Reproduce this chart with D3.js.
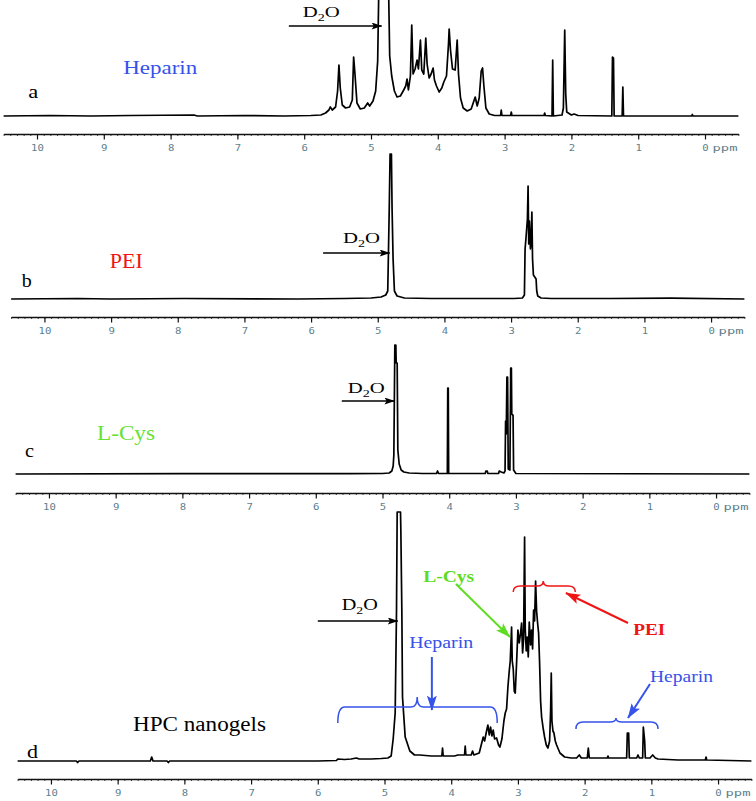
<!DOCTYPE html>
<html><head><meta charset="utf-8">
<script src="https://cdn.jsdelivr.net/npm/d3@7"></script>
<style>body{margin:0;background:#fff}svg{display:block}</style>
</head><body>
<svg id="chart" width="756" height="801"></svg>
<script>
// ---------------- data ----------------
const ppmDomain = [10.5, -0.5];
const majorTicks = [10, 9, 8, 7, 6, 5, 4, 3, 2, 1, 0];
const minorTicks = d3.range(-5, 106).map(d => d / 10);
const panelLetters = ["a", "b", "c", "d"];
const panelNames = ["Heparin", "PEI", "L-Cys", "HPC nanogels"];

// [ppm, intensity (a.u.)]
const spectrumA = [[10.5,0],[9.8,0.5],[9.2,0],[8.6,0.5],[7.65,1],[7.6,0],[6.9,0.5],[6.3,0],[5.9,0.5],[5.75,1],[5.68,3],[5.63,6],[5.61,9],[5.58,6],[5.53,9],[5.50,25],[5.48,51],[5.46,28],[5.43,11],[5.38,8],[5.32,9],[5.28,16],[5.26,59],[5.24,42],[5.21,13],[5.16,7],[5.10,8],[5.05,13],[5.02,10],[4.97,15],[4.93,25],[4.90,55],[4.88,140],[4.74,140],[4.72,60],[4.69,40],[4.65,25],[4.61,19],[4.56,20],[4.51,26],[4.48,30],[4.46,37],[4.44,26],[4.41,40],[4.39,91],[4.37,42],[4.34,47],[4.31,56],[4.29,47],[4.26,76],[4.24,46],[4.21,42],[4.18,78],[4.16,52],[4.13,38],[4.10,42],[4.07,48],[4.05,36],[4.02,30],[3.98,24],[3.94,28],[3.91,34],[3.87,40],[3.84,72],[3.83,87],[3.81,66],[3.78,47],[3.74,46],[3.71,76],[3.69,42],[3.66,18],[3.62,8],[3.56,5],[3.50,7],[3.47,13],[3.44,19],[3.41,10],[3.38,18],[3.35,45],[3.33,48],[3.31,30],[3.28,8],[3.23,2],[3.15,0.5],[3.06,0.5],[3.05,6],[3.04,0.5],[2.91,0.5],[2.90,4],[2.89,0.5],[2.41,0.5],[2.40,3],[2.39,0.5],[2.29,0],[2.28,56],[2.27,0],[2.14,1],[2.12,8],[2.10,86],[2.085,22],[2.07,4],[2.0,1],[1.96,2],[1.9,0.5],[1.395,0],[1.385,59],[1.37,58],[1.36,0],[1.24,0],[1.23,29],[1.22,0],[0.2,0],[0.19,1.5],[0.18,0],[-0.5,0]];

const spectrumB = [[10.5,0],[9.5,0.5],[9.0,0],[7.9,0.5],[6.2,0],[5.5,0.5],[5.1,1],[4.95,2],[4.88,4],[4.85,8],[4.83,81],[4.815,145],[4.795,145],[4.785,90],[4.77,40],[4.75,8],[4.71,3],[4.6,1],[4.2,0.5],[3.5,0.5],[2.95,0.5],[2.83,1],[2.80,4],[2.79,50],[2.775,62],[2.755,80],[2.745,113],[2.735,55],[2.725,78],[2.71,50],[2.70,56],[2.688,87],[2.678,40],[2.665,24],[2.645,22],[2.625,20],[2.615,8],[2.60,3],[2.55,1],[2.4,0.5],[1.5,0.5],[0.6,0.8],[-0.5,0]];

const spectrumC = [[10.5,0],[8.0,0.3],[5.5,0.3],[5.0,0.5],[4.9,1],[4.86,3],[4.84,8],[4.83,19],[4.815,129],[4.80,129],[4.795,111],[4.78,111],[4.77,24],[4.75,10],[4.72,4],[4.68,2],[4.6,1],[4.4,0.5],[4.19,0.5],[4.175,3],[4.16,0.5],[4.028,0.5],[4.022,86],[4.014,86],[4.008,0.5],[3.46,0.5],[3.45,3],[3.43,3],[3.42,0.5],[3.26,0.5],[3.25,3],[3.22,2],[3.18,1],[3.163,3],[3.155,53],[3.145,40],[3.135,97],[3.125,97],[3.115,5],[3.09,4],[3.078,106],[3.068,106],[3.062,60],[3.05,59],[3.043,59],[3.035,4],[3.0,0.5],[-0.5,0]];

const spectrumD = [[10.5,0],[9.62,0],[9.6,-1.5],[9.58,0],[8.51,0],[8.49,4],[8.47,0],[8.26,0],[8.24,-1.5],[8.22,0],[6.0,0],[5.72,0.5],[5.70,2],[5.6,1.5],[5.5,2],[5.42,3],[5.38,2],[5.2,2],[5.05,2.5],[4.95,3],[4.9,5],[4.87,22],[4.84,48],[4.82,150],[4.81,249],[4.76,249],[4.755,231],[4.74,150],[4.73,64],[4.69,24],[4.62,10],[4.55,6],[4.47,6],[4.3,5],[4.14,5],[4.13,13],[4.12,5],[3.95,5],[3.90,6],[3.80,6],[3.79,15],[3.78,6],[3.70,6],[3.68,10],[3.66,6],[3.58,8],[3.55,16],[3.52,24],[3.50,20],[3.47,30],[3.45,36],[3.43,26],[3.41,34],[3.39,25],[3.37,31],[3.35,22],[3.32,23],[3.29,16],[3.27,14],[3.24,22],[3.21,40],[3.19,48],[3.17,52],[3.15,74],[3.13,90],[3.115,100],[3.095,134],[3.085,100],[3.07,92],[3.055,70],[3.04,68],[3.02,98],[3.00,131],[2.98,118],[2.96,128],[2.945,138],[2.93,108],[2.915,122],[2.90,224],[2.89,132],[2.875,110],[2.86,124],[2.845,104],[2.83,139],[2.81,116],[2.795,131],[2.78,112],[2.765,151],[2.75,140],[2.735,180],[2.72,150],[2.705,138],[2.69,128],[2.675,98],[2.66,60],[2.645,44],[2.62,32],[2.60,24],[2.575,16],[2.55,13],[2.525,20],[2.51,50],[2.50,88],[2.49,40],[2.475,30],[2.46,28],[2.44,20],[2.42,16],[2.37,8],[2.30,4],[2.2,3],[2.12,3],[2.08,6],[2.05,3],[1.96,3],[1.945,13],[1.93,3],[1.8,3],[1.66,3],[1.65,5],[1.64,3],[1.50,3],[1.37,3],[1.36,28],[1.34,28],[1.33,3],[1.22,3],[1.20,6],[1.18,3],[1.13,3],[1.12,34],[1.10,20],[1.09,3],[1.02,3],[0.98,6],[0.94,3],[0.9,2],[0.6,1],[0.19,1],[0.18,4],[0.17,1],[-0.5,0]];

// ---------------- layout ----------------
const BLUE = "#3552ea", RED = "#f01515", GREEN = "#5ddc22", LIME = "#66e233";
const TICKCOL = "#5d7f8d";
const SERIF = "'Liberation Serif','Times New Roman',serif";

const panels = [
  {data: spectrumA, x0: 3.6, x1: 738.4, base: 116, axis: 134},
  {data: spectrumB, x0: 11.1, x1: 744.4, base: 299, axis: 317},
  {data: spectrumC, x0: 15.6, x1: 749.4, base: 474, axis: 493},
  {data: spectrumD, x0: 17.6, x1: 751.4, base: 761, axis: 779}
];

const svg = d3.select("#chart");
const defs = svg.append("defs");
function marker(id, color, w, h) {
  defs.append("marker").attr("id", id).attr("viewBox", "0 0 12 8")
    .attr("refX", 11.5).attr("refY", 4).attr("markerUnits", "userSpaceOnUse")
    .attr("markerWidth", w).attr("markerHeight", h).attr("orient", "auto")
    .append("path").attr("d", "M0,0 L12,4 L0,8 L2.5,4 Z").attr("fill", color);
}
marker("mk", "#000", 13, 7);
marker("mb", BLUE, 15, 11);
marker("mg", GREEN, 15, 11);
marker("mr", RED, 15, 11);

const scales = panels.map((p, i) => {
  const x = d3.scaleLinear().domain(ppmDomain).range([p.x0, p.x1]);
  const y = d3.scaleLinear().domain([0, 100]).range([p.base, p.base - 100]);
  const g = svg.append("g");

  g.append("g").attr("transform", `translate(0,${p.axis})`)
    .call(d3.axisBottom(x).tickValues(minorTicks).tickSize(2).tickFormat(""))
    .call(a => a.select(".domain").remove())
    .selectAll("line").attr("stroke", "#333").attr("stroke-width", 0.9);
  const ax = g.append("g").attr("transform", `translate(0,${p.axis})`)
    .call(d3.axisBottom(x).tickValues(majorTicks).tickSize(5.5).tickSizeOuter(0).tickPadding(5).tickFormat(d3.format("d")));
  ax.select(".domain").attr("stroke", "#111").attr("stroke-width", 1.6);
  ax.selectAll(".tick line").attr("stroke", "#111").attr("stroke-width", 1.2);
  ax.selectAll(".tick text").attr("fill", TICKCOL)
    .style("font-family", "'DejaVu Sans Mono',monospace").style("font-size", "9.5px")
    .attr("textLength", d => String(d).length * 6.4).attr("lengthAdjust", "spacingAndGlyphs");
  ax.append("text").attr("x", x(0) + 7.5).attr("y", 5.5 + 5).attr("dy", "0.71em")
    .attr("fill", TICKCOL).attr("text-anchor", "start")
    .style("font-family", "'DejaVu Sans Mono',monospace").style("font-size", "9.5px")
    .attr("textLength", 25).attr("lengthAdjust", "spacingAndGlyphs").text("ppm");

  g.append("path").datum(p.data)
    .attr("d", d3.line().x(d => x(d[0])).y(d => y(d[1])))
    .attr("fill", "none").attr("stroke", "#000").attr("stroke-width", 1.7).attr("stroke-linejoin", "round");
  return {x, y, g};
});

function txt(s, px, h, str, opts = {}) {
  const t = s.g.append("text").attr("x", s.x(px)).attr("y", s.y(h))
    .style("font-family", SERIF).style("font-size", (opts.size || 18) + "px")
    .style("font-weight", opts.bold ? "bold" : "normal")
    .attr("fill", opts.color || "#000").text(str);
  if (opts.len) t.attr("textLength", opts.len).attr("lengthAdjust", "spacingAndGlyphs");
  return t;
}
function d2o(s, px, h, len, size) {
  const t = s.g.append("text").attr("x", s.x(px)).attr("y", s.y(h))
    .style("font-family", SERIF).style("font-size", size + "px").attr("fill", "#000")
    .attr("textLength", len).attr("lengthAdjust", "spacingAndGlyphs");
  t.append("tspan").text("D");
  t.append("tspan").attr("dy", 4).style("font-size", (size * 0.68) + "px").text("2");
  t.append("tspan").attr("dy", -4).text("O");
}
function arrow(s, p1, h1, p2, h2, color, mk, w) {
  s.g.append("line").attr("x1", s.x(p1)).attr("y1", s.y(h1)).attr("x2", s.x(p2)).attr("y2", s.y(h2))
    .attr("stroke", color).attr("stroke-width", w).attr("marker-end", `url(#${mk})`);
}
function brace(s, p1, p2, pm, h, hEnd, hTip, color) {
  const x1 = s.x(p1), x2 = s.x(p2), xm = s.x(pm);
  const y = s.y(h), ye = s.y(hEnd), yt = s.y(hTip);
  const r = 7;
  const path = `M${x1},${ye} Q${x1},${y} ${x1 + r},${y} L${xm - 6},${y} Q${xm},${y} ${xm},${yt} Q${xm},${y} ${xm + 6},${y} L${x2 - r},${y} Q${x2},${y} ${x2},${ye}`;
  s.g.append("path").attr("d", path).attr("fill", "none").attr("stroke", color).attr("stroke-width", 1.5);
}

const [sa, sb, sc, sd] = scales;
txt(sa, 10.13, 18, panelLetters[0], {size: 18, len: 10});
txt(sb, 10.34, 12, panelLetters[1], {size: 18, len: 10});
txt(sc, 10.36, 17, panelLetters[2], {size: 18, len: 9});
txt(sd, 10.36, 3, panelLetters[3], {size: 19, len: 11});
txt(sa, 8.71, 42, panelNames[0], {size: 18.5, len: 74, color: BLUE});
txt(sb, 9.02, 31, panelNames[1], {size: 20, len: 33, color: RED});
txt(sc, 9.28, 34, panelNames[2], {size: 20, len: 58, color: LIME});
txt(sd, 8.77, 30, panelNames[3], {size: 20, len: 133});

d2o(sa, 6.02, 98.7, 37, 15.5); arrow(sa, 6.23, 90, 4.84, 90, "#000", "mk", 1.5);
d2o(sb, 5.52, 56, 37, 15.5);   arrow(sb, 5.82, 46, 4.82, 46, "#000", "mk", 1.5);
d2o(sc, 5.52, 81, 37, 15.5);   arrow(sc, 5.61, 73, 4.82, 73, "#000", "mk", 1.5);
d2o(sd, 5.64, 151, 36, 16.5);  arrow(sd, 6.0, 140, 4.80, 140, "#000", "mk", 1.5);

txt(sd, 4.63, 113, "Heparin", {size: 17, len: 64, color: BLUE});
arrow(sd, 4.29, 104, 4.29, 51, BLUE, "mb", 2);
brace(sd, 5.70, 3.31, 4.51, 54, 38, 64, BLUE);

txt(sd, 4.42, 179, "L-Cys", {size: 16.5, len: 51, color: GREEN, bold: true});
arrow(sd, 3.93, 177, 3.12, 124, GREEN, "mg", 2);

brace(sd, 3.07, 2.14, 2.62, 175, 169, 180, RED);
arrow(sd, 1.35, 138, 2.28, 168, RED, "mr", 2);
txt(sd, 1.27, 126, "PEI", {size: 17, len: 32, color: RED, bold: true});

txt(sd, 1.02, 79, "Heparin", {size: 17, len: 63, color: BLUE});
arrow(sd, 1.02, 77, 1.35, 43, BLUE, "mb", 2);
brace(sd, 2.13, 0.90, 1.53, 39, 32, 43, BLUE);
</script>
</body></html>
